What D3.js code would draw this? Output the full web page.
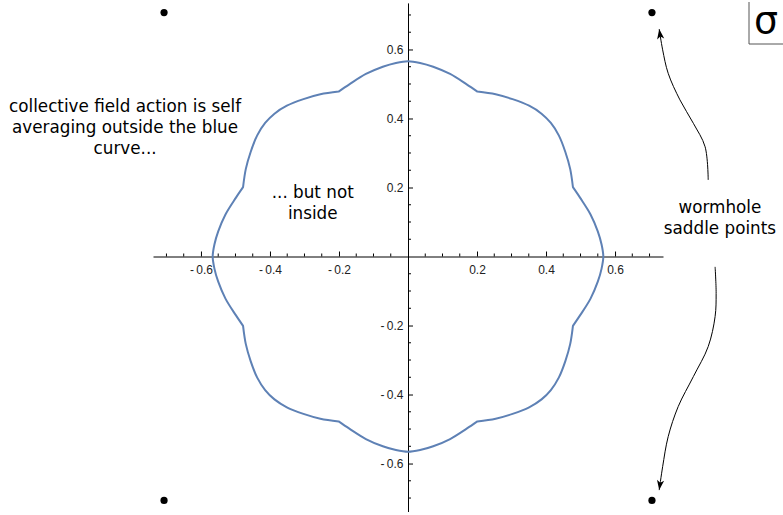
<!DOCTYPE html>
<html>
<head>
<meta charset="utf-8">
<script src="https://cdn.jsdelivr.net/npm/d3@7"></script>
<style>
body { margin: 0; background: #fff; }
svg { display: block; }
</style>
</head>
<body>
<div id="chart"></div>
<script>
// blue curve, first quadrant; the curve has the symmetry of the square
var curveX = [0.000, 0.035, 0.073, 0.122, 0.170, 0.201,
              0.254, 0.303, 0.351, 0.387, 0.414, 0.437, 0.456, 0.470, 0.478,
              0.499, 0.529, 0.550, 0.561, 0.566];
var curveY = [0.566, 0.561, 0.550, 0.529, 0.499, 0.478,
              0.470, 0.456, 0.437, 0.414, 0.387, 0.351, 0.303, 0.254, 0.201,
              0.170, 0.122, 0.073, 0.035, 0.000];
// points where the curve has a kink
var curveKink = [0, 0, 0, 0, 0, 1,
                 0, 0, 0, 0, 0, 0, 0, 0, 1,
                 0, 0, 0, 0, 0];

// wormhole saddle points
var saddleX = [-0.707, 0.707, -0.707, 0.707];
var saddleY = [0.707, 0.707, -0.707, -0.707];

var majorTicks = [-0.6, -0.4, -0.2, 0.2, 0.4, 0.6];
var tickLabels = ["-\u20090.6", "-\u20090.4", "-\u20090.2", "0.2", "0.4", "0.6"];
var minorTicks = [-0.7, -0.65, -0.55, -0.5, -0.45, -0.35, -0.3, -0.25, -0.15, -0.1, -0.05,
                  0.05, 0.1, 0.15, 0.25, 0.3, 0.35, 0.45, 0.5, 0.55, 0.65, 0.7];

// the two annotation arrows (data coords), tail first
var arrowUpX = [0.870, 0.861, 0.827, 0.788, 0.754, 0.738, 0.728];
var arrowUpY = [0.222, 0.318, 0.386, 0.454, 0.531, 0.599, 0.659];
var arrowDownX = [0.890, 0.893, 0.890, 0.870, 0.827, 0.783, 0.754, 0.738, 0.728];
var arrowDownY = [-0.030, -0.107, -0.174, -0.261, -0.348, -0.435, -0.522, -0.609, -0.677];

var width = 783, height = 515;

var svg = d3.select("#chart").append("svg")
    .attr("width", width)
    .attr("height", height);

var x = d3.scaleLinear().domain([-0.739, 0.739]).range([153, 663]);
var y = d3.scaleLinear().domain([-0.739, 0.735]).range([511.5, 2.9]);

// build the closed curve from the quadrant
var q1 = curveX.map(function(d, i){ return [d, curveY[i], curveKink[i]]; });
var q4 = q1.slice().reverse().map(function(p){ return [p[0], -p[1], p[2]]; });
var q3 = q1.map(function(p){ return [-p[0], -p[1], p[2]]; });
var q2 = q1.slice().reverse().map(function(p){ return [-p[0], p[1], p[2]]; });
var curvePts = q1.concat(q4.slice(1), q3.slice(1), q2.slice(1, -1));

// start at the first kink, split into smooth pieces between kinks
var k0 = curvePts.findIndex(function(p){ return p[2]; });
var ring = curvePts.slice(k0).concat(curvePts.slice(0, k0 + 1));
var pieces = [], cur = [ring[0]];
for (var i = 1; i < ring.length; i++) {
    cur.push(ring[i]);
    if (ring[i][2]) { pieces.push(cur); cur = [ring[i]]; }
}

// axes
var xAxis = svg.append("g")
    .attr("transform", "translate(0," + y(0) + ")")
    .call(d3.axisBottom(x).tickValues(majorTicks)
        .tickFormat(function(d, i){ return tickLabels[i]; })
        .tickSizeInner(-5).tickSizeOuter(0).tickPadding(8.5));
xAxis.selectAll(".tick.minor").data(minorTicks).enter()
    .append("line")
    .attr("x1", function(d){ return x(d); })
    .attr("x2", function(d){ return x(d); })
    .attr("y1", 0).attr("y2", -3)
    .attr("stroke", "#000");

var yAxis = svg.append("g")
    .attr("transform", "translate(" + x(0) + ",0)")
    .call(d3.axisLeft(y).tickValues(majorTicks)
        .tickFormat(function(d, i){ return tickLabels[i]; })
        .tickSizeInner(-5).tickSizeOuter(0).tickPadding(4.5));
yAxis.selectAll(".tick.minor").data(minorTicks).enter()
    .append("line")
    .attr("y1", function(d){ return y(d); })
    .attr("y2", function(d){ return y(d); })
    .attr("x1", 0).attr("x2", 3)
    .attr("stroke", "#000");

svg.selectAll(".domain").attr("stroke", "#000");
svg.selectAll(".tick text")
    .attr("font-family", "Liberation Sans, Arial, sans-serif")
    .attr("font-size", 12)
    .attr("fill", "#222");

// blue curve
var curveLine = d3.line()
    .x(function(p){ return x(p[0]); })
    .y(function(p){ return y(p[1]); })
    .curve(d3.curveCatmullRom.alpha(0.5));

svg.append("path")
    .attr("d", pieces.map(function(s, i){
        var d = curveLine(s);
        return i == 0 ? d : d.replace(/^M[^CL]*/, "");
    }).join("") + "Z")
    .attr("fill", "none")
    .attr("stroke", "#5e81b5")
    .attr("stroke-width", 2)
    .attr("stroke-linejoin", "round");

// saddle points
svg.selectAll("circle.saddle")
    .data(saddleX)
    .enter()
    .append("circle")
    .attr("class", "saddle")
    .attr("cx", function(d){ return x(d); })
    .attr("cy", function(d, i){ return y(saddleY[i]); })
    .attr("r", 3.6)
    .attr("fill", "#000");

// arrows
svg.append("defs").append("marker")
    .attr("id", "head")
    .attr("markerUnits", "userSpaceOnUse")
    .attr("viewBox", "-11 -5 12 10")
    .attr("refX", 0).attr("refY", 0)
    .attr("markerWidth", 12).attr("markerHeight", 10)
    .attr("orient", "auto")
    .append("path")
    .attr("d", "M0,0L-10,-3.6L-7.5,0L-10,3.6Z")
    .attr("fill", "#000");

var arrowLine = d3.line()
    .x(function(p){ return x(p[0]); })
    .y(function(p){ return y(p[1]); })
    .curve(d3.curveCatmullRom);

[[arrowUpX, arrowUpY], [arrowDownX, arrowDownY]].forEach(function(a){
    var pts = a[0].map(function(d, i){ return [d, a[1][i]]; });
    svg.append("path")
        .attr("d", arrowLine(pts))
        .attr("fill", "none")
        .attr("stroke", "#000")
        .attr("stroke-width", 1)
        .attr("marker-end", "url(#head)");
});

// annotation text
function addText(cx, cy, lines, lh){
    var t = svg.append("text")
        .attr("x", x(cx))
        .attr("y", y(cy))
        .attr("text-anchor", "middle")
        .attr("font-family", "DejaVu Sans, Verdana, sans-serif")
        .attr("font-size", 16.8)
        .attr("fill", "#000");
    lines.forEach(function(s, i){
        t.append("tspan")
            .attr("x", x(cx))
            .attr("dy", i == 0 ? 0 : lh)
            .text(s);
    });
}
addText(-0.820, 0.420, ["collective field action is self", "averaging outside the blue", "curve..."], 21.4);
addText(-0.276, 0.171, ["... but not", "inside"], 21.6);
addText(0.904, 0.125, ["wormhole", "saddle points"], 20.5);

// sigma frame label
svg.append("path")
    .attr("d", "M749,2V44H783")
    .attr("fill", "none")
    .attr("stroke", "#555")
    .attr("stroke-width", 1);
svg.append("text")
    .attr("x", 754)
    .attr("y", 33)
    .attr("font-family", "DejaVu Sans, sans-serif")
    .attr("font-size", 38)
    .attr("fill", "#000")
    .text("\u03c3");
</script>
</body>
</html>
